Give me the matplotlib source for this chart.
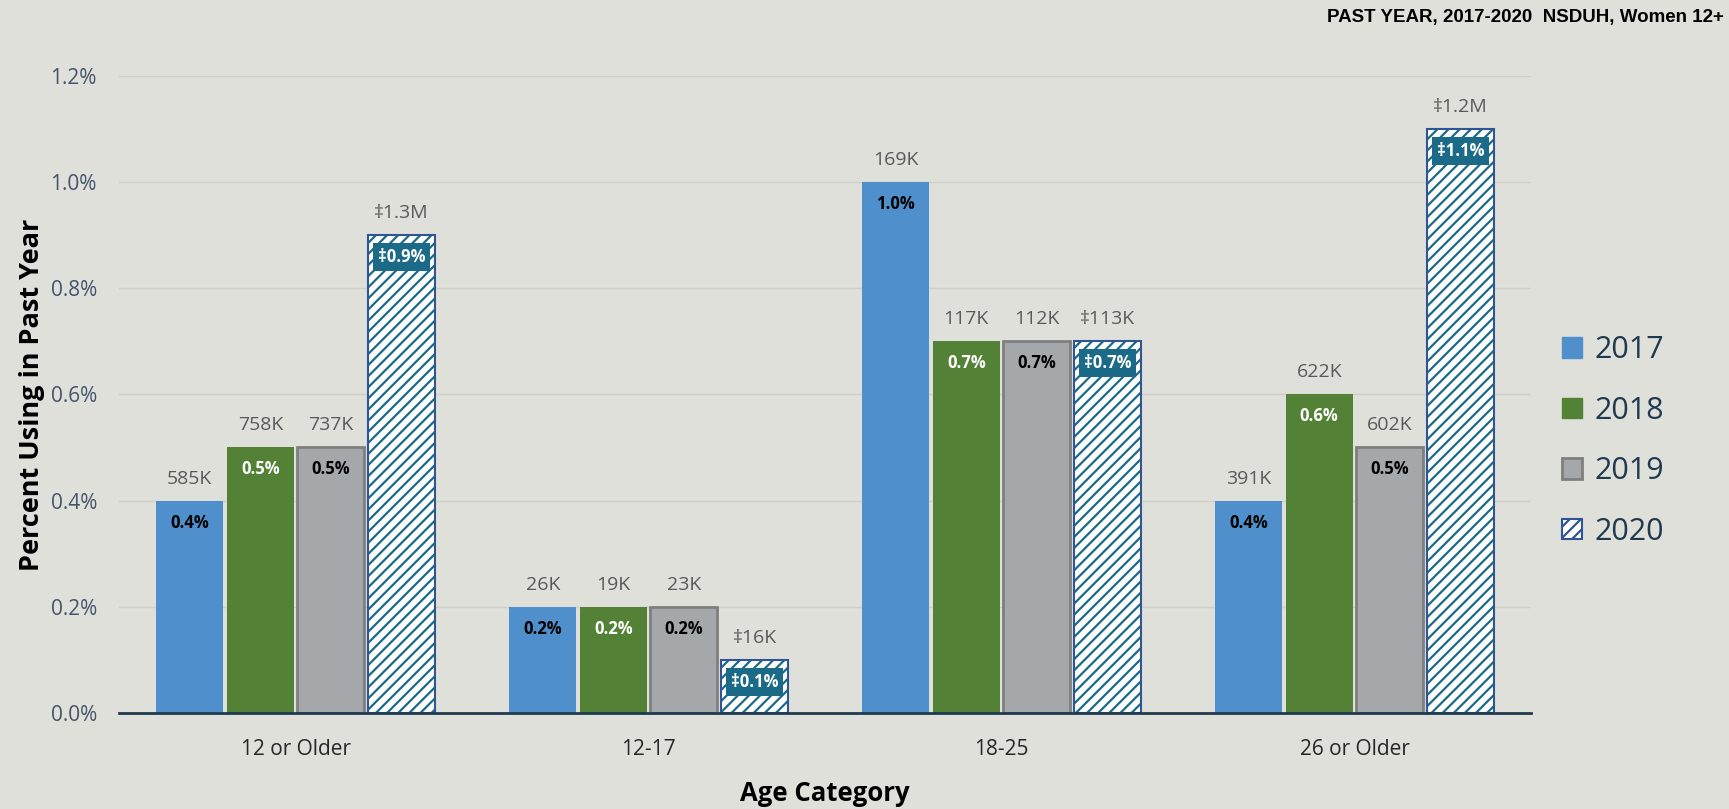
import matplotlib
matplotlib.use("Agg")
import matplotlib.pyplot as plt
import matplotlib.patches as mpatches
import numpy as np

plt.rcParams['font.family'] = ['Open Sans', 'DejaVu Sans']

# data
categories = ['12 or Older', '12-17', '18-25', '26 or Older']
years = ['2017', '2018', '2019', '2020']
pct = {
    '2017': [0.4, 0.2, 1.0, 0.4],
    '2018': [0.5, 0.2, 0.7, 0.6],
    '2019': [0.5, 0.2, 0.7, 0.5],
    '2020': [0.9, 0.1, 0.7, 1.1],
}
counts = {
    '2017': ['585K', '26K', '169K', '391K'],
    '2018': ['758K', '19K', '117K', '622K'],
    '2019': ['737K', '23K', '112K', '602K'],
    '2020': ['\u20211.3M', '\u202116K', '\u2021113K', '\u20211.2M'],
}
inner = {
    '2017': ['0.4%', '0.2%', '1.0%', '0.4%'],
    '2018': ['0.5%', '0.2%', '0.7%', '0.6%'],
    '2019': ['0.5%', '0.2%', '0.7%', '0.5%'],
    '2020': ['\u20210.9%', '\u20210.1%', '\u20210.7%', '\u20211.1%'],
}

bg = '#E0E0DB'
blue = '#4F8FCB'
green = '#538135'
gray = '#A5A8AB'
teal = '#1B6A87'
navy = '#2F5597'

plt.rcParams['hatch.color'] = teal
plt.rcParams['hatch.linewidth'] = 1.6

fig = plt.figure(figsize=(17.29, 8.09), dpi=100, facecolor=bg)
ax = fig.add_axes([0.0689, 0.119, 0.8166, 0.787])
ax.set_facecolor(bg)

x = np.arange(len(categories))
w = 0.19
step = 0.2
offs = [-1.5, -0.5, 0.5, 1.5]

for i, yr in enumerate(years):
    xs = x + offs[i] * step
    vals = pct[yr]
    if yr == '2017':
        ax.bar(xs, vals, w, color=blue, zorder=3)
        txtc = 'black'
    elif yr == '2018':
        ax.bar(xs, vals, w, color=green, zorder=3)
        txtc = 'white'
    elif yr == '2019':
        ax.bar(xs, vals, w, color=gray, edgecolor='#7F7F7F', linewidth=2, zorder=3)
        txtc = 'black'
    else:
        ax.bar(xs, vals, w, color='white', edgecolor=teal, linewidth=0, hatch='///', zorder=3)
        ax.bar(xs, vals, w, fill=False, edgecolor=navy, linewidth=1.5, zorder=4)
        txtc = 'white'
    for j in range(len(categories)):
        ax.annotate(counts[yr][j], (xs[j], vals[j]), xytext=(0, 22), textcoords='offset pixels',
                    ha='center', va='center', fontsize=14, color='#595959', zorder=5,
                    annotation_clip=False)
        if yr == '2020':
            ax.annotate(inner[yr][j], (xs[j], vals[j]), xytext=(0, -22), textcoords='offset pixels',
                        ha='center', va='center', fontsize=12, fontweight='bold', color='white',
                        zorder=6, bbox=dict(boxstyle='square,pad=0.3', fc=teal, ec='none'))
        else:
            ax.annotate(inner[yr][j], (xs[j], vals[j]), xytext=(0, -22), textcoords='offset pixels',
                        ha='center', va='center', fontsize=12, fontweight='bold', color=txtc,
                        zorder=6)

ax.set_xlim(-0.5, 3.5)
ax.set_ylim(0, 1.2)
ax.set_yticks([0, 0.2, 0.4, 0.6, 0.8, 1.0, 1.2])
ax.set_yticklabels(['0.0%', '0.2%', '0.4%', '0.6%', '0.8%', '1.0%', '1.2%'],
                   fontsize=15, color='#44546A')
ax.set_xticks(x)
ax.set_xticklabels(categories, fontsize=15, color='#262626')
ax.tick_params(axis='y', length=0, pad=16)
ax.tick_params(axis='x', length=0, pad=19)
ax.grid(axis='y', color='#CFCFCA', linewidth=1, zorder=0)
for s in ['top', 'right', 'left']:
    ax.spines[s].set_visible(False)
ax.spines['bottom'].set_color('#1F3A4F')
ax.spines['bottom'].set_linewidth(2)
ax.spines['bottom'].set_zorder(7)

ax.set_xlabel('Age Category', fontsize=18.5, fontweight='bold', color='black', labelpad=14)
ax.set_ylabel('Percent Using in Past Year', fontsize=19.5, fontweight='bold', color='black', labelpad=4)

handles = [
    mpatches.Patch(facecolor=blue, edgecolor=blue),
    mpatches.Patch(facecolor=green, edgecolor=green),
    mpatches.Patch(facecolor=gray, edgecolor='#7F7F7F', linewidth=2),
    mpatches.Patch(facecolor='white', edgecolor=navy, hatch='///', linewidth=1.5),
]
leg = fig.legend(handles, years, loc='center left', bbox_to_anchor=(0.8875, 0.455),
                 frameon=False, fontsize=22, handlelength=0.65, handleheight=0.65,
                 handletextpad=0.4, labelspacing=1.0)
for t in leg.get_texts():
    t.set_color('#1F3A4F')

fig.text(0.997, 0.978, 'PAST YEAR, 2017-2020  NSDUH, Women 12+', ha='right', va='center',
         fontsize=13.5, fontweight='bold', family=['Liberation Sans'],
         color='black')

fig.savefig('out.png', dpi=100, facecolor=bg)
